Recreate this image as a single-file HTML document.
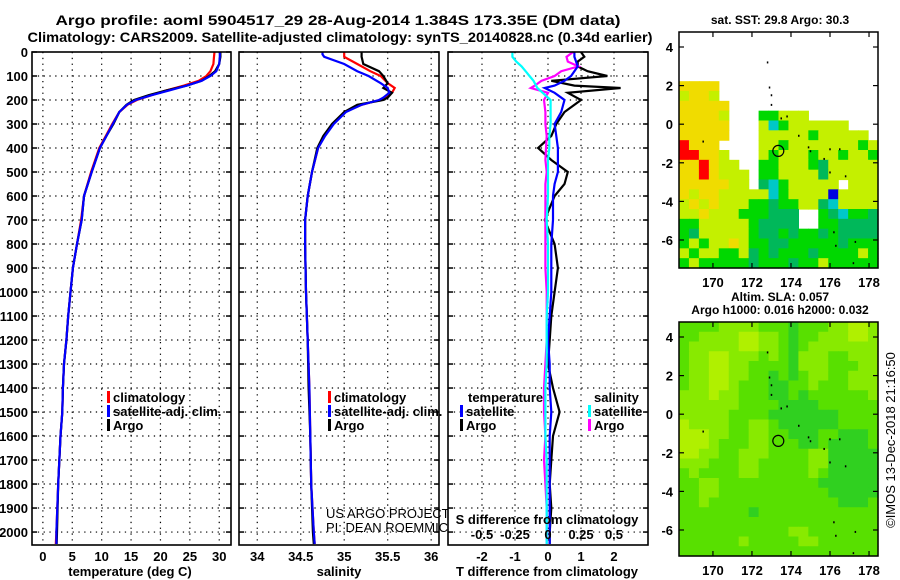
<!DOCTYPE html>
<html><head><meta charset="utf-8">
<style>
html,body{margin:0;padding:0;background:#fff;}
svg{display:block;font-family:"Liberation Sans",sans-serif;}
.b{font-weight:bold;font-size:13px;}
</style></head>
<body>
<svg id="fig" width="900" height="580" viewBox="0 0 900 580" xmlns="http://www.w3.org/2000/svg">
<text x="338" y="25" text-anchor="middle" font-weight="bold" font-size="14" textLength="565" lengthAdjust="spacingAndGlyphs">Argo profile: aoml 5904517_29 28-Aug-2014 1.384S 173.35E (DM data)</text>
<text x="340" y="42" text-anchor="middle" font-weight="bold" font-size="14" textLength="625" lengthAdjust="spacingAndGlyphs">Climatology: CARS2009. Satellite-adjusted climatology: synTS_20140828.nc (0.34d earlier)</text>
<g id="g"></g>
</svg>
<script>
// ---- profile data ----
const depthsT = [0,20,50,80,100,120,140,160,180,200,220,250,300,350,400,450,500,600,700,800,900,1000,1100,1200,1300,1400,1500,1600,1800,2000,2050];
const argoT = [30.2,30.2,30.0,29.3,28.3,27.0,24.5,21.0,18.0,15.5,14.2,13.0,12.0,10.8,9.7,9.0,8.3,7.0,6.6,5.8,5.1,4.7,4.3,4.0,3.6,3.4,3.3,3.0,2.6,2.4,2.35];
const climT = [29.2,29.1,29.0,28.5,27.8,26.5,24.0,21.0,18.5,16.0,14.4,13.0,11.8,10.7,9.6,8.9,8.2,7.0,6.5,5.8,5.1,4.7,4.3,4.0,3.6,3.4,3.3,3.0,2.6,2.3,2.2];
const satT = [30.1,30.1,30.0,29.5,28.5,27.0,24.5,21.5,18.5,15.8,14.3,13.0,11.9,10.8,9.7,9.0,8.3,7.0,6.6,5.8,5.1,4.7,4.3,4.0,3.6,3.4,3.3,3.0,2.6,2.3,2.3];
const depthsS = [0,10,20,50,80,100,130,150,170,190,200,220,250,300,350,400,500,600,700,800,1000,1200,1400,1600,1800,2000,2050];
const argoS = [35.2,35.2,35.2,35.22,35.4,35.45,35.5,35.45,35.55,35.5,35.45,35.15,35.0,34.86,34.76,34.69,34.63,34.58,34.55,34.55,34.56,34.58,34.59,34.61,34.62,34.64,34.65];
const climS = [35.0,35.0,35.0,35.15,35.3,35.42,35.5,35.58,35.55,35.47,35.41,35.2,35.0,34.87,34.77,34.7,34.63,34.58,34.55,34.55,34.56,34.58,34.6,34.61,34.62,34.65,34.66];
const satS = [34.75,34.75,34.77,35.0,35.15,35.28,35.42,35.5,35.52,35.45,35.4,35.2,35.02,34.88,34.78,34.7,34.63,34.58,34.55,34.55,34.56,34.58,34.6,34.61,34.62,34.65,34.66];
const depthsD = [0,20,40,60,80,100,120,140,150,170,200,250,300,350,400,450,500,550,600,700,800,900,1000,1100,1200,1300,1400,1500,1600,1700,1800,1900,2000,2050];
const argoDT = [1.0,1.1,0.9,0.9,1.2,1.8,0.1,0.8,2.2,0.6,1.0,0.5,0.25,0.1,-0.3,0.1,0.6,0.5,0.2,-0.1,0.2,0.3,0.2,0.1,0.05,0.0,0.15,0.35,0.15,0.1,0.05,0.1,0.05,0.05];
const satDT = [0.8,0.8,0.85,0.9,0.8,0.7,0.5,0.2,-0.1,0.2,0.5,0.4,0.2,0.25,0.3,0.3,0.3,0.2,0.15,0.15,0.1,0.1,0.1,0.05,0.0,0.05,0.05,0.1,0.05,0.05,0.05,0.05,0.05,0.05];
const satDS = [-0.27,-0.27,-0.24,-0.2,-0.17,-0.14,-0.11,-0.09,-0.08,-0.04,0.02,0.02,0.02,0.01,0.01,0.0,0.0,0.0,0.0,-0.01,0.0,0.0,0.0,-0.01,-0.01,-0.01,-0.02,-0.02,-0.02,-0.01,-0.01,-0.01,-0.01,-0.01];
const argoDS = [0.19,0.14,0.15,0.23,0.1,0.05,-0.05,-0.1,-0.13,0.0,-0.03,-0.02,-0.02,-0.01,-0.015,-0.02,-0.01,-0.02,-0.02,-0.02,-0.02,-0.02,-0.01,-0.01,-0.01,-0.02,-0.03,-0.03,-0.02,-0.03,-0.02,-0.01,-0.01,-0.01];
const depthTicks = [0,100,200,300,400,500,600,700,800,900,1000,1100,1200,1300,1400,1500,1600,1700,1800,1900,2000];
const tTicks = [0,5,10,15,20,25,30];
const sTicks = [34,34.5,35,35.5,36];
const sTickLabels = ["34","34.5","35","35.5","36"];
const dTTicks = [-2,-1,0,1,2];
const dSTicks = [-0.5,-0.25,0,0.25,0.5];
const dSTickLabels = ["-0.5","-0.25","0","0.25","0.5"];
// ---- map data ----
const sstGrid = [
"....................","....................","....................","....................","....................",
"oooo................","lool................","ooooo...............","ooool...gglll.......","ooooo...lcgllllll...",
"ooooo...lllllglllll.","rooo....llglllllllgl","rrool...lglllgllgllg","ooroll..gglllgdlllll","oorolll.gglllldlllll",
"oooooll.dcglllll.lll","oloolllllcgllllbllll","lololllggdgglldcllll","llolllgggddd..gdcggd","gglllllgdddd..ggdddd",
"gdlllllgddgdggdgdddd","glgllolggddgggggdggg","lgllggldgdgggdgggglg","glgggggdgggdgglggggg"];
const slaGrid = [
"ccccbbbbcccdcccbbaab","ccbbbbaabbcdccbbbaab","cbbbbbaabbcdcbbbbbbb","cbbaabbbcbcdbbbccbbb","cbbaabbccccdbbbcccbb",
"cbbaabbccdcdcbbccbbb","cbbaabcccddccbcccbbb","bbbabbcccddcdccccccb","bbbbbbccccddddcccccc","bbbbbccccdddddddcccc",
"abbbbccbbcddddddcccc","aaabbccbbccdddccdddc","aaabcccbbcccddcddddc","aabbccbbbccccbbddddd","bbbcccbbcccccbbddddd",
"cbccccbbcccccbcddddd","ccbbccccccccccdddddd","ccbbcccccccccccddddd","ccbcccccccccccccdddc","cccccccdcccccccccccc",
"cccccccccccccccccccc","cccccccccccbbccccccc","ccccccbcccccbbcccccc","cccccccccccccccccccc"];
const lonTicks = [170,172,174,176,178];
const latTicks = [4,2,0,-2,-4,-6];
const argoLon = 173.35, argoLat = -1.384;

const NS="http://www.w3.org/2000/svg";
const G=document.getElementById('g');
function mk(tag,attrs,parent){const e=document.createElementNS(NS,tag);for(const k in attrs)e.setAttribute(k,attrs[k]);(parent||G).appendChild(e);return e;}
function txt(s,x,y,attrs,parent){const e=mk('text',Object.assign({x:x,y:y},attrs||{}),parent);e.textContent=s;return e;}

const PT=52, PB=545, DMAX=2054;
const yD=d=>PT+(d/DMAX)*(PB-PT);

function panel(name,x0,x1,vmin,vmax){
  const xs=v=>x0+(v-vmin)/(vmax-vmin)*(x1-x0);
  const g=mk('g',{});
  
  
  mk('rect',{x:x0,y:PT,width:x1-x0,height:PB-PT,fill:'#fff'},g);
  return {xs,g,x0,x1};
}
function grid(p,xt){
  depthTicks.forEach(d=>{if(d>0){const l=mk('line',{x1:p.x0,x2:p.x1,y1:yD(d),y2:yD(d),stroke:'#000','stroke-width':1.2,'stroke-dasharray':'1.3,4.5'},p.g);
  }
  mk('line',{x1:p.x0,x2:p.x0+5,y1:yD(d),y2:yD(d),stroke:'#000','stroke-width':1.5},p.g);
  mk('line',{x1:p.x1,x2:p.x1-5,y1:yD(d),y2:yD(d),stroke:'#000','stroke-width':1.5},p.g);});
  xt.forEach(v=>{const l=mk('line',{x1:p.xs(v),x2:p.xs(v),y1:PT,y2:PB,stroke:'#000','stroke-width':1.2,'stroke-dasharray':'1.3,4.5'},p.g);
  });
}
function line(p,vals,depths,color,name,xsf){
  const f=xsf||p.xs;
  const pts=vals.map((v,i)=>f(v).toFixed(1)+','+yD(depths[i]).toFixed(1)).join(' ');
  const l=mk('polyline',{points:pts,fill:'none',stroke:color,'stroke-width':2.2,'stroke-linejoin':'miter'},p.g);
  
  
}
function frame(p){mk('rect',{x:p.x0,y:PT,width:p.x1-p.x0,height:PB-PT,fill:'none',stroke:'#000','stroke-width':1.6},p.g);}
function legend(items,xb,y0,parent){
  items.forEach((it,i)=>{const y=y0+i*14;
    const r=mk('rect',{x:xb,y:y-11,width:3,height:12,fill:it[1]},parent);
    
    const t=txt(it[0],xb+6,y,{'class':'b'},parent);
    });
}

// Panel 1 temperature
const p1=panel('temperature-panel',32,231,-1.85,32.0);
grid(p1,tTicks);
line(p1,climT,depthsT,'#f00','climatology-temperature-line');
line(p1,argoT,depthsT,'#000','argo-temperature-line');
line(p1,satT,depthsT,'#00f','satellite-temperature-line');
frame(p1);
depthTicks.forEach(d=>{const t=txt(String(d),28,yD(d)+5,{'class':'b','text-anchor':'end'});
});
tTicks.forEach(v=>{const t=txt(String(v),p1.xs(v),561,{'class':'b','text-anchor':'middle'});
});
const xt1=txt('temperature (deg C)',130,576,{'class':'b','text-anchor':'middle'});

legend([['climatology','#f00','climatology'],['satellite-adj. clim.','#00f','satellite'],['Argo','#000','argo']],107,402,p1.g);

// Panel 2 salinity
const p2=panel('salinity-panel',239,439,33.79,36.09);
grid(p2,sTicks);
line(p2,climS,depthsS,'#f00','climatology-salinity-line');
line(p2,argoS,depthsS,'#000','argo-salinity-line');
line(p2,satS,depthsS,'#00f','satellite-salinity-line');
frame(p2);
sTicks.forEach((v,i)=>{const t=txt(sTickLabels[i],p2.xs(v),561,{'class':'b','text-anchor':'middle'});
});
const xt2=txt('salinity',339,576,{'class':'b','text-anchor':'middle'});

legend([['climatology','#f00','climatology'],['satellite-adj. clim.','#00f','satellite'],['Argo','#000','argo']],328,402,p2.g);
const c1=txt('US ARGO PROJECT',326,518,{'font-size':13});

const c2=txt('PI: DEAN ROEMMICH',326,532,{'font-size':13});


// Panel 3 differences
const p3=panel('difference-panel',448,648,-3.03,3.03);
const xsS=v=>p3.xs(v*4);
grid(p3,dTTicks);
line(p3,argoDT,depthsD,'#000','argo-temperature-difference-line');
line(p3,argoDS,depthsD,'#f0f','argo-salinity-difference-line',xsS);
line(p3,satDT,depthsD,'#00f','satellite-temperature-difference-line');
line(p3,satDS,depthsD,'#0ff','satellite-salinity-difference-line',xsS);
frame(p3);
dTTicks.forEach(v=>{const t=txt(String(v),p3.xs(v),561,{'class':'b','text-anchor':'middle'});
});
dSTicks.forEach((v,i)=>{const t=txt(dSTickLabels[i],xsS(v),539,{'class':'b','text-anchor':'middle'});
});
const st=txt('S difference from climatology',547,524,{'class':'b','text-anchor':'middle'});

const xt3=txt('T difference from climatology',547,576,{'class':'b','text-anchor':'middle'});

const lt=txt('temperature',468,402,{'class':'b'},p3.g);
legend([['satellite','#00f','temperature-satellite'],['Argo','#000','temperature-argo']],460,416,p3.g);
const ls=txt('salinity',594,402,{'class':'b'},p3.g);
legend([['satellite','#0ff','salinity-satellite'],['Argo','#f0f','salinity-argo']],588,416,p3.g);

// Maps
function map(name,top,bot,gridRows,palette,fill,title,titleY){
  const L=679,R=878;
  const lonMin=168.26,lonMax=178.46;
  const lat4=top+15,latPx=19.3;
  const xl=lon=>L+(lon-lonMin)/(lonMax-lonMin)*(R-L);
  const yl=lat=>lat4+(4-lat)*latPx;
  const g=mk('g',{});
  
  
  const cw=(R-L)/20,ch=(bot-top)/gridRows.length;
  gridRows.forEach((row,r)=>{for(let c=0;c<20;c++){const k=(row[c]||fill);if(k==='.')continue;
    const cell=mk('rect',{x:(L+c*cw).toFixed(2),y:(top+r*ch).toFixed(2),width:(cw+0.6).toFixed(2),height:(ch+0.6).toFixed(2),fill:palette[k]},g);
    }});
  const coast=[[172.8,3.2],[172.9,1.9],[173.0,1.5],[173.0,1.0],[173.5,0.3],[173.8,0.4],[174.4,-0.6],[174.9,-1.2],[175.0,-1.4],[175.7,-1.8],[176.0,-1.3],[176.5,-1.3],[176.0,-2.5],[176.8,-2.7],[169.5,-0.9],[176.2,-5.6],[177.3,-6.1],[176.3,-6.3],[177.2,-7.2]];
  coast.forEach(p=>{const d=mk('rect',{x:xl(p[0])-0.75,y:yl(p[1])-1,width:1.5,height:2,fill:'#000'},g);
    });
  const c=mk('circle',{cx:xl(argoLon),cy:yl(argoLat),r:5.5,fill:'none',stroke:'#000','stroke-width':1.2},g);
  
  mk('rect',{x:L,y:top,width:R-L,height:bot-top,fill:'none',stroke:'#000','stroke-width':1.5},g);
  lonTicks.forEach(v=>{mk('line',{x1:xl(v),x2:xl(v),y1:bot,y2:bot-5,stroke:'#000','stroke-width':1.2},g);
    mk('line',{x1:xl(v),x2:xl(v),y1:top,y2:top+5,stroke:'#000','stroke-width':1.2},g);
    const t=txt(String(v),xl(v),bot+19,{'class':'b','text-anchor':'middle'},g);
    });
  latTicks.forEach(v=>{mk('line',{x1:L,x2:L+5,y1:yl(v),y2:yl(v),stroke:'#000','stroke-width':1.2},g);
    mk('line',{x1:R,x2:R-5,y1:yl(v),y2:yl(v),stroke:'#000','stroke-width':1.2},g);
    const t=txt(String(v),673,yl(v)+5,{'class':'b','text-anchor':'end'},g);
    });
  title.forEach((s,i)=>{const t=txt(s,780,titleY[i],{'font-weight':'bold','font-size':12,'text-anchor':'middle'},g);
    });
}
map('sst-map',32,268,sstGrid,{o:'#f0dc00',y:'#e6f000',l:'#c4f000',g:'#00d800',d:'#00b85a',c:'#00c8c8',r:'#ff0000',b:'#0000e0'},'.',['sat. SST: 29.8 Argo: 30.3'],[24]);
map('sla-map',322,556,slaGrid,{a:'#b0f000',b:'#88ea00',c:'#58e000',d:'#30d020'},'c',['Altim. SLA: 0.057','Argo h1000: 0.016 h2000: 0.032'],[301,314]);
const ts=txt('\u00A9IMOS 13-Dec-2018 21:16:50',0,0,{'font-size':13,'text-anchor':'middle',transform:'translate(895,440) rotate(-90)'});

</script>
</body></html>
